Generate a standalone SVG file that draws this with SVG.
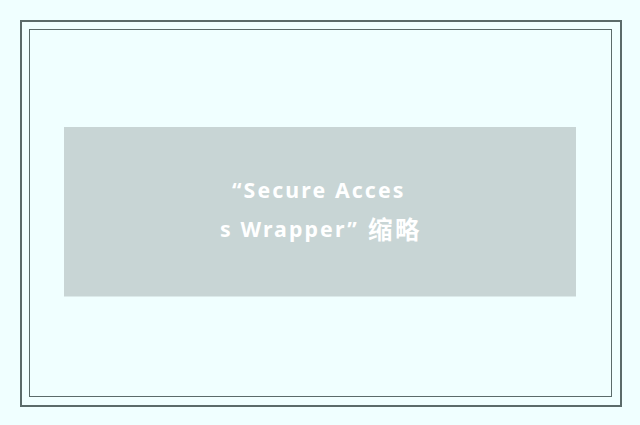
<svg xmlns="http://www.w3.org/2000/svg" width="640" height="425" viewBox="0 0 640 425">
<style>
.frame{fill:none;stroke:#5b6b6a}
.lbl{font-family:"Noto Sans","Noto Sans CJK SC",sans-serif;font-weight:bold;font-size:21.3px;letter-spacing:2.1px;fill:#ffffff}
.cjk{font-family:"Noto Sans CJK SC",sans-serif;font-size:24.5px;letter-spacing:2.5px}
</style>
<rect x="0" y="0" width="640" height="425" fill="#f0ffff"/>
<rect class="frame" x="21" y="21" width="600" height="385" stroke-width="2"/>
<rect class="frame" x="29.5" y="29.5" width="582" height="367" stroke-width="1"/>
<g id="thumbnail">
<rect x="64" y="127" width="512" height="169.5" fill="#c8d5d5"/>
<text class="lbl" x="232" y="197.5">“Secure Acces</text>
<text class="lbl" x="220" y="236.7">s Wrapper”<tspan class="cjk" x="368" y="238.5">缩略</tspan></text>
</g>
</svg>
